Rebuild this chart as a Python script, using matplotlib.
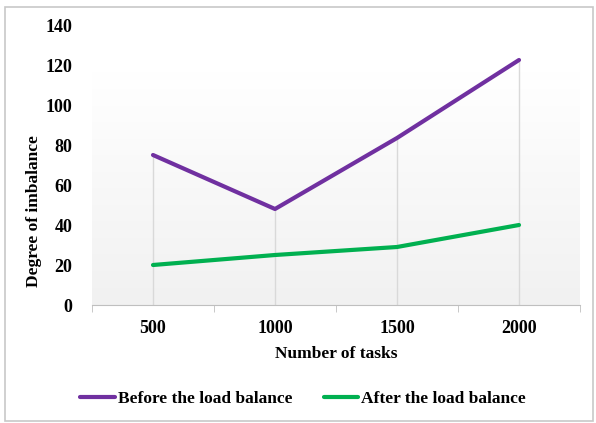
import numpy as np
import matplotlib.pyplot as plt
from matplotlib.patches import Rectangle

plt.rcParams['font.family'] = 'Liberation Serif'
plt.rcParams['font.weight'] = 'bold'

tasks = ['500', '1000', '1500', '2000']
before_balance = [75, 48, 83.5, 122.5]
after_balance = [20, 25, 29, 40]

W, H = 596, 423
fig = plt.figure(figsize=(W / 100, H / 100), dpi=100)

# plot area in pixel coordinates
left, right, top, bottom = 92, 580, 25, 305
ax = fig.add_axes([left / W, 1 - bottom / H, (right - left) / W, (bottom - top) / H])

x = np.arange(len(tasks))
ax.set_xlim(-0.5, len(tasks) - 0.5)
ax.set_ylim(0, 140)

# light gradient fill behind the series (white at top, pale grey at bottom)
shade = np.linspace(1.0, 0.945, 256).reshape(-1, 1, 1)
grad = np.repeat(shade, 3, axis=2)
ax.imshow(grad, aspect='auto', extent=(-0.5, len(tasks) - 0.5, 0, 116.5),
          zorder=0, interpolation='bilinear')

# drop lines from the highest point at each category
tops = np.maximum(before_balance, after_balance)
ax.vlines(x, 0, tops, color='#d9d9d9', linewidth=1, zorder=1)

ax.plot(x, before_balance, color='#7030a0', linewidth=3, solid_capstyle='round',
        label='Before the load balance', zorder=3)
ax.plot(x, after_balance, color='#00b050', linewidth=3, solid_capstyle='round',
        label='After the load balance', zorder=3)

ax.set_xticks(x)
ax.set_xticklabels(tasks)
ax.set_xticks(np.arange(-0.5, len(tasks)), minor=True)
ax.set_yticks(np.arange(0, 141, 20))
ax.tick_params(axis='x', which='major', length=0, pad=11, labelsize=13)
ax.tick_params(axis='x', which='minor', length=5, color='#bfbfbf', direction='out')
ax.tick_params(axis='y', length=0, pad=14, labelsize=13)

for side in ['top', 'right', 'left']:
    ax.spines[side].set_visible(False)
ax.spines['bottom'].set_color('#bfbfbf')

ax.set_xlabel('Number of tasks', fontsize=12.5, fontweight='bold', labelpad=6)
fig.text(34 / W, 1 - 211 / H, 'Degree of imbalance', rotation=90, fontsize=12.5,
         fontweight='bold', ha='center', va='center')

fig.legend(loc='center', bbox_to_anchor=(0.5 + 5 / W, 1 - 399 / H), ncol=2, frameon=False,
           fontsize=12.5, handlelength=2.0, handletextpad=0.15, columnspacing=1.8)

# outer chart border
fig.patches.append(Rectangle((5 / W, 1 - 421 / H), 588 / W, 414 / H,
                             transform=fig.transFigure, fill=False,
                             edgecolor='#c8c8c8', linewidth=1.2))

fig.savefig('out.png', dpi=100)
